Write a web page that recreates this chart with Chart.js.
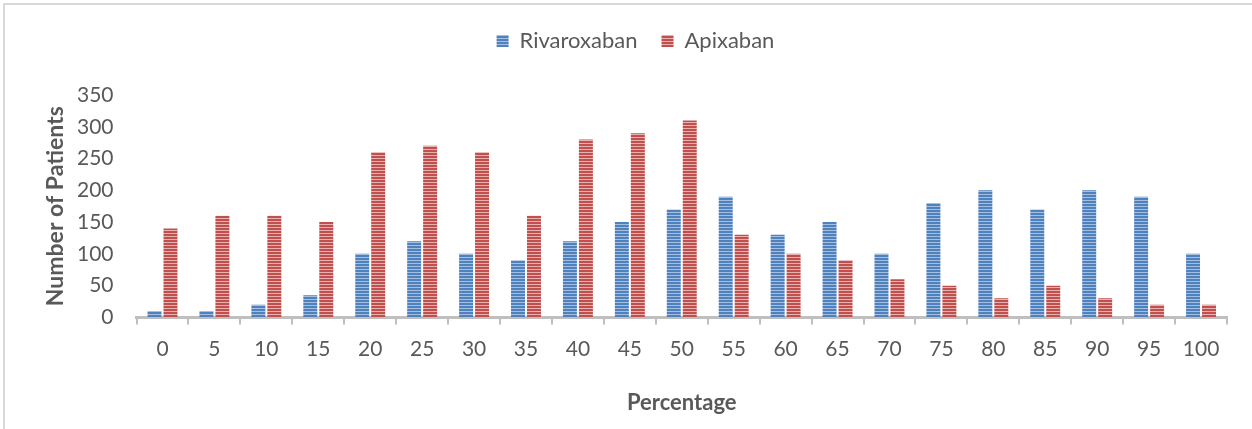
<!DOCTYPE html>
<html lang="en">
<head>
    <meta charset="UTF-8">
    <title>Number of Patients by Percentage</title>
    <script src="https://cdn.jsdelivr.net/npm/chart.js"></script>
    <style>
        body {
            margin: 0;
            padding: 0;
            background: #fff;
        }
        #marco {
            position: absolute;
            left: 3px;
            top: 3px;
            width: 1249px;
            height: 426px;
            border-top: 2px solid #d9d9d9;
            border-left: 2px solid #d9d9d9;
        }
        #contenedor {
            position: absolute;
            left: 0;
            top: 0;
            width: 1252px;
            height: 429px;
        }
    </style>
</head>
<body>
    <div id="marco"></div>
    <div id="contenedor">
        <canvas id="grafica"></canvas>
    </div>
    <script>
        const categorias = ['0', '5', '10', '15', '20', '25', '30', '35', '40', '45', '50',
            '55', '60', '65', '70', '75', '80', '85', '90', '95', '100'];
        const rivaroxaban = [10, 10, 20, 35, 100, 120, 100, 90, 120, 150, 170,
            190, 130, 150, 100, 180, 200, 170, 200, 190, 100];
        const apixaban = [140, 160, 160, 150, 260, 270, 260, 160, 280, 290, 310,
            130, 100, 90, 60, 50, 30, 50, 30, 20, 20];
        const ticksY = [0, 50, 100, 150, 200, 250, 300, 350];

        // rayas horizontales como el relleno de Excel
        function rayas(color, claro) {
            const c = document.createElement('canvas');
            c.width = 4;
            c.height = 3;
            const g = c.getContext('2d');
            g.fillStyle = color;
            g.fillRect(0, 0, 4, 2);
            g.fillStyle = claro;
            g.fillRect(0, 2, 4, 1);
            return document.getElementById('grafica').getContext('2d').createPattern(c, 'repeat');
        }

        const azul = rayas('#4f81bd', '#a5bfe2');
        const rojo = rayas('#c0504d', '#e8b0ae');
        const gris = '#595959';

        // espacio extra debajo de la leyenda
        const margenLeyenda = {
            id: 'margenLeyenda',
            beforeInit(chart) {
                const fitOriginal = chart.legend.fit;
                chart.legend.fit = function () {
                    fitOriginal.bind(chart.legend)();
                    this.height += 33;
                };
            }
        };

        const ctx = document.getElementById('grafica').getContext('2d');
        new Chart(ctx, {
            type: 'bar',
            data: {
                labels: categorias,
                datasets: [{
                    label: 'Rivaroxaban',
                    data: rivaroxaban,
                    backgroundColor: azul,
                    borderWidth: 0
                }, {
                    label: 'Apixaban',
                    data: apixaban,
                    backgroundColor: rojo,
                    borderWidth: 0
                }]
            },
            plugins: [margenLeyenda],
            options: {
                responsive: true,
                maintainAspectRatio: false,
                animation: false,
                layout: {
                    padding: { left: 44, right: 25, top: 6, bottom: 13 }
                },
                datasets: {
                    bar: {
                        categoryPercentage: 0.615,
                        barPercentage: 0.875
                    }
                },
                plugins: {
                    legend: {
                        position: 'top',
                        labels: {
                            font: { family: 'Lato', size: 22 },
                            color: gris,
                            boxWidth: 12,
                            boxHeight: 12,
                            padding: 24
                        }
                    },
                    tooltip: { enabled: false }
                },
                scales: {
                    x: {
                        grid: {
                            display: true,
                            drawOnChartArea: false,
                            offset: true,
                            tickLength: 7,
                            color: '#bfbfbf',
                            lineWidth: 2
                        },
                        border: { color: '#bfbfbf', width: 3 },
                        ticks: {
                            font: { family: 'Lato', size: 21 },
                            color: gris,
                            padding: 12
                        },
                        title: {
                            display: true,
                            text: 'Percentage',
                            font: { family: 'Lato', size: 22, weight: 'bold' },
                            color: gris,
                            padding: { top: 16, bottom: 0 }
                        }
                    },
                    y: {
                        min: 0,
                        max: 350,
                        afterBuildTicks: (eje) => {
                            eje.ticks = ticksY.map(v => ({ value: v }));
                        },
                        grid: { display: false, tickLength: 19 },
                        border: { display: false },
                        ticks: {
                            font: { family: 'Lato', size: 21 },
                            color: gris,
                            padding: 4
                        },
                        title: {
                            display: true,
                            text: 'Number of Patients',
                            font: { family: 'Lato', size: 23, weight: 'bold', lineHeight: 1 },
                            color: gris,
                            padding: { top: 0, bottom: 6 }
                        }
                    }
                }
            }
        });
    </script>
</body>
</html>
